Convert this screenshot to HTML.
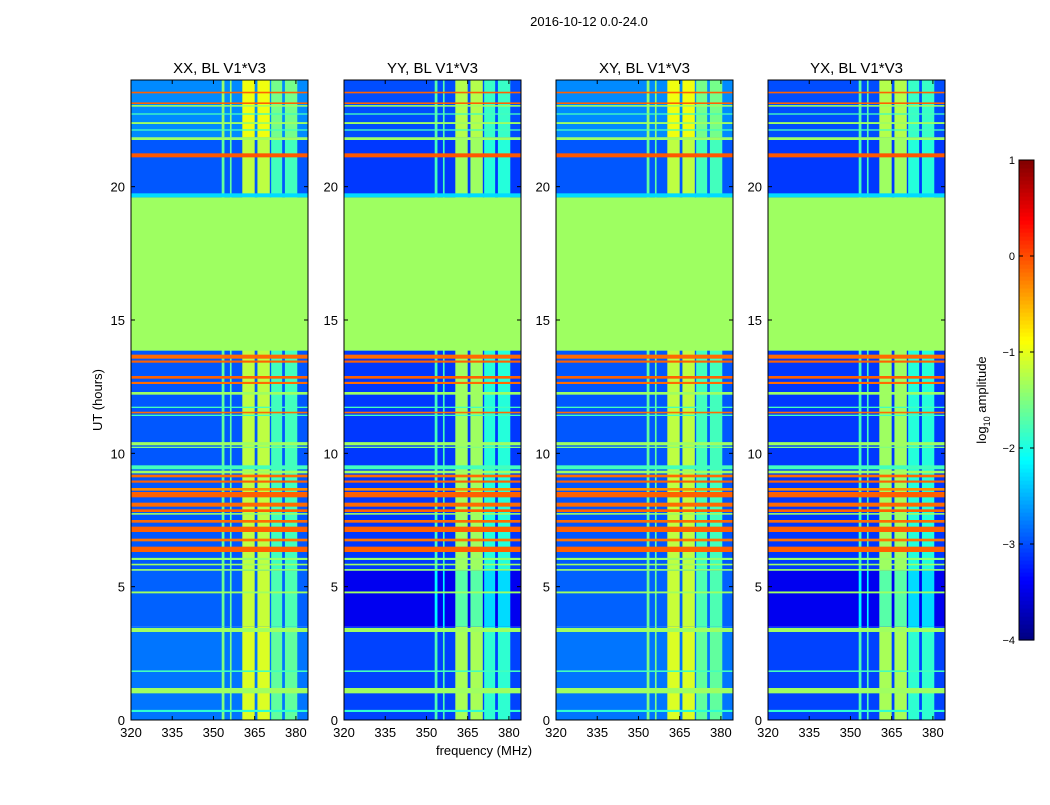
<!DOCTYPE html>
<html><head><meta charset="utf-8"><style>
body{margin:0;background:#fff;font-family:"Liberation Sans",sans-serif}
svg text{font-family:"Liberation Sans",sans-serif}
</style></head><body>
<svg id="fig" width="1050" height="800" xmlns="http://www.w3.org/2000/svg">
<rect width="1050" height="800" fill="#fff"/>
<text x="589" y="26" font-size="13" text-anchor="middle">2016-10-12 0.0-24.0</text>
<text x="102" y="400" font-size="13" text-anchor="middle" transform="rotate(-90 102 400)">UT (hours)</text>
<text x="484" y="755" font-size="13" text-anchor="middle">frequency (MHz)</text>
<g id="panels"></g>
<g id="cbar"></g>
</svg>
<script>
const panelTitles=["XX, BL V1*V3","YY, BL V1*V3","XY, BL V1*V3","YX, BL V1*V3"];
const panelLefts=[131,344,556,768];
const xTicks=[320,335,350,365,380];
const yTicks=[0,5,10,15,20];
const cbarTicks=[1,0,-1,-2,-3,-4];
// background regions (hours) and per-panel log amplitude
const bgStarts=[0,3.5,5.6,21.85];
const bgEnds=[3.5,5.6,21.85,24];
const bgLevels=[[-2.8,-2.9,-2.95,-2.7],[-3.05,-3.45,-3.1,-3.0],[-2.8,-2.9,-2.95,-2.7],[-3.05,-3.45,-3.1,-3.0]];
// RFI frequency columns (MHz) and boost
const colStarts=[353,356,360.5,366,371,376];
const colEnds=[354,356.6,365,370.5,375,380.5];
const colBoost=[1.3,1.3,1.75,1.75,1.15,1.15];
// broadband time rows (hours) and level
const rowStarts=[0.3,1.0,1.8,3.3,4.75,5.6,5.8,6.0,6.3,6.7,7.05,7.4,7.7,7.8,8.0,8.35,8.6,8.9,9.1,9.25,9.4,10.2,10.3,11.4,11.5,11.7,12.2,12.6,12.8,13.4,13.55,13.85,19.6,21.1,21.75,22.1,22.35,22.7,23.0,23.1,23.5];
const rowEnds=[0.38,1.2,1.86,3.45,4.82,5.66,5.86,6.08,6.5,6.8,7.25,7.5,7.76,7.9,8.15,8.55,8.7,8.98,9.2,9.35,9.55,10.25,10.42,11.45,11.56,11.75,12.3,12.68,12.9,13.48,13.7,19.6,19.75,21.25,21.85,22.15,22.42,22.75,23.06,23.16,23.56];
const rowLevels=[-1.9,-1.35,-1.8,-1.35,-1.35,-1.4,-1.35,-1.4,-0.1,-0.2,-0.1,-0.15,-1.35,-0.1,-0.15,-0.1,-0.3,-0.1,-0.15,-1.35,-1.8,-1.5,-1.35,-1.8,-0.15,-1.8,-1.35,-0.15,-0.1,-0.1,-0.15,-1.35,-2.3,-0.05,-1.35,-1.8,-1.35,-1.8,-1.35,-0.1,-0.1];
const vmin=-4,vmax=1,f0=320,f1=384.4,t0=0,t1=24;
const PW=177,PT=80,PB=720;
function jet(v){let x=(v-vmin)/(vmax-vmin);x=Math.max(0,Math.min(1,x));
 const c=t=>Math.round(255*Math.max(0,Math.min(1,1.5-Math.abs(4*x-t))));
 return `rgb(${c(3)},${c(2)},${c(1)})`;}
const NS="http://www.w3.org/2000/svg";
function el(p,tag,a){const e=document.createElementNS(NS,tag);for(const k in a)e.setAttribute(k,a[k]);p.appendChild(e);return e;}
const P=document.getElementById('panels');
panelTitles.forEach((title,pi)=>{
 const L=panelLefts[pi];
 const xs=f=>L+(f-f0)/(f1-f0)*PW;
 const ys=t=>PB-(t-t0)/(t1-t0)*(PB-PT);
 const g=el(P,'g',{});
 
 
 bgStarts.forEach((s,i)=>{
  const r=el(g,'rect',{x:L,y:ys(bgEnds[i]),width:PW,height:ys(s)-ys(bgEnds[i]),fill:jet(bgLevels[pi][i])});
  
  
  colStarts.forEach((cs,j)=>{
   const c=el(g,'rect',{x:xs(cs),y:ys(bgEnds[i]),width:xs(colEnds[j])-xs(cs),height:ys(s)-ys(bgEnds[i]),fill:jet(bgLevels[pi][i]+colBoost[j])});
   
   
  });
 });
 rowStarts.forEach((s,i)=>{
  const h=Math.max(1,ys(s)-ys(rowEnds[i]));
  const r=el(g,'rect',{x:L,y:ys(rowEnds[i]),width:PW,height:h,fill:jet(rowLevels[i])});
  
  
 });
 el(g,'rect',{x:L,y:PT,width:PW,height:PB-PT,fill:'none',stroke:'#000','stroke-width':1});
 const tt=el(g,'text',{x:L+PW/2,y:73,'font-size':15,'text-anchor':'middle'});tt.textContent=title;
 
 
 xTicks.forEach(v=>{const x=xs(v);
  el(g,'line',{x1:x,x2:x,y1:PB,y2:PB-4,stroke:'#000'});el(g,'line',{x1:x,x2:x,y1:PT,y2:PT+4,stroke:'#000'});
  const t=el(g,'text',{x:x,y:PB+17,'font-size':13,'text-anchor':'middle'});t.textContent=v;
  
  });
 yTicks.forEach(v=>{const y=ys(v);
  el(g,'line',{x1:L,x2:L+4,y1:y,y2:y,stroke:'#000'});el(g,'line',{x1:L+PW,x2:L+PW-4,y1:y,y2:y,stroke:'#000'});
  const t=el(g,'text',{x:L-6,y:y+5,'font-size':13,'text-anchor':'end'});t.textContent=v;
  
  });
});
const C=document.getElementById('cbar');
const CX=1019,CW=15,CT=160,CB=640;
const cy=v=>CB-(v-vmin)/(vmax-vmin)*(CB-CT);
for(let i=0;i<120;i++){const v0=vmin+i*(vmax-vmin)/120,v1=vmin+(i+1)*(vmax-vmin)/120;
 el(C,'rect',{x:CX,y:cy(v1),width:CW,height:cy(v0)-cy(v1)+0.6,fill:jet((v0+v1)/2)});}
el(C,'rect',{x:CX,y:CT,width:CW,height:CB-CT,fill:'none',stroke:'#000'});
cbarTicks.forEach(v=>{const y=cy(v);
 el(C,'line',{x1:CX,x2:CX+4,y1:y,y2:y,stroke:'#000'});el(C,'line',{x1:CX+CW,x2:CX+CW-4,y1:y,y2:y,stroke:'#000'});
 const t=el(C,'text',{x:CX-4,y:y+4,'font-size':11,'text-anchor':'end'});t.textContent=(v<0?'\u2212'+(-v):v);
 
 });
const cl=el(C,'text',{x:986,y:400,'font-size':13,'text-anchor':'middle',transform:'rotate(-90 986 400)'});


cl.innerHTML='log<tspan font-size="9" dy="4">10</tspan><tspan dy="-4"> amplitude</tspan>';
</script>
</body></html>
